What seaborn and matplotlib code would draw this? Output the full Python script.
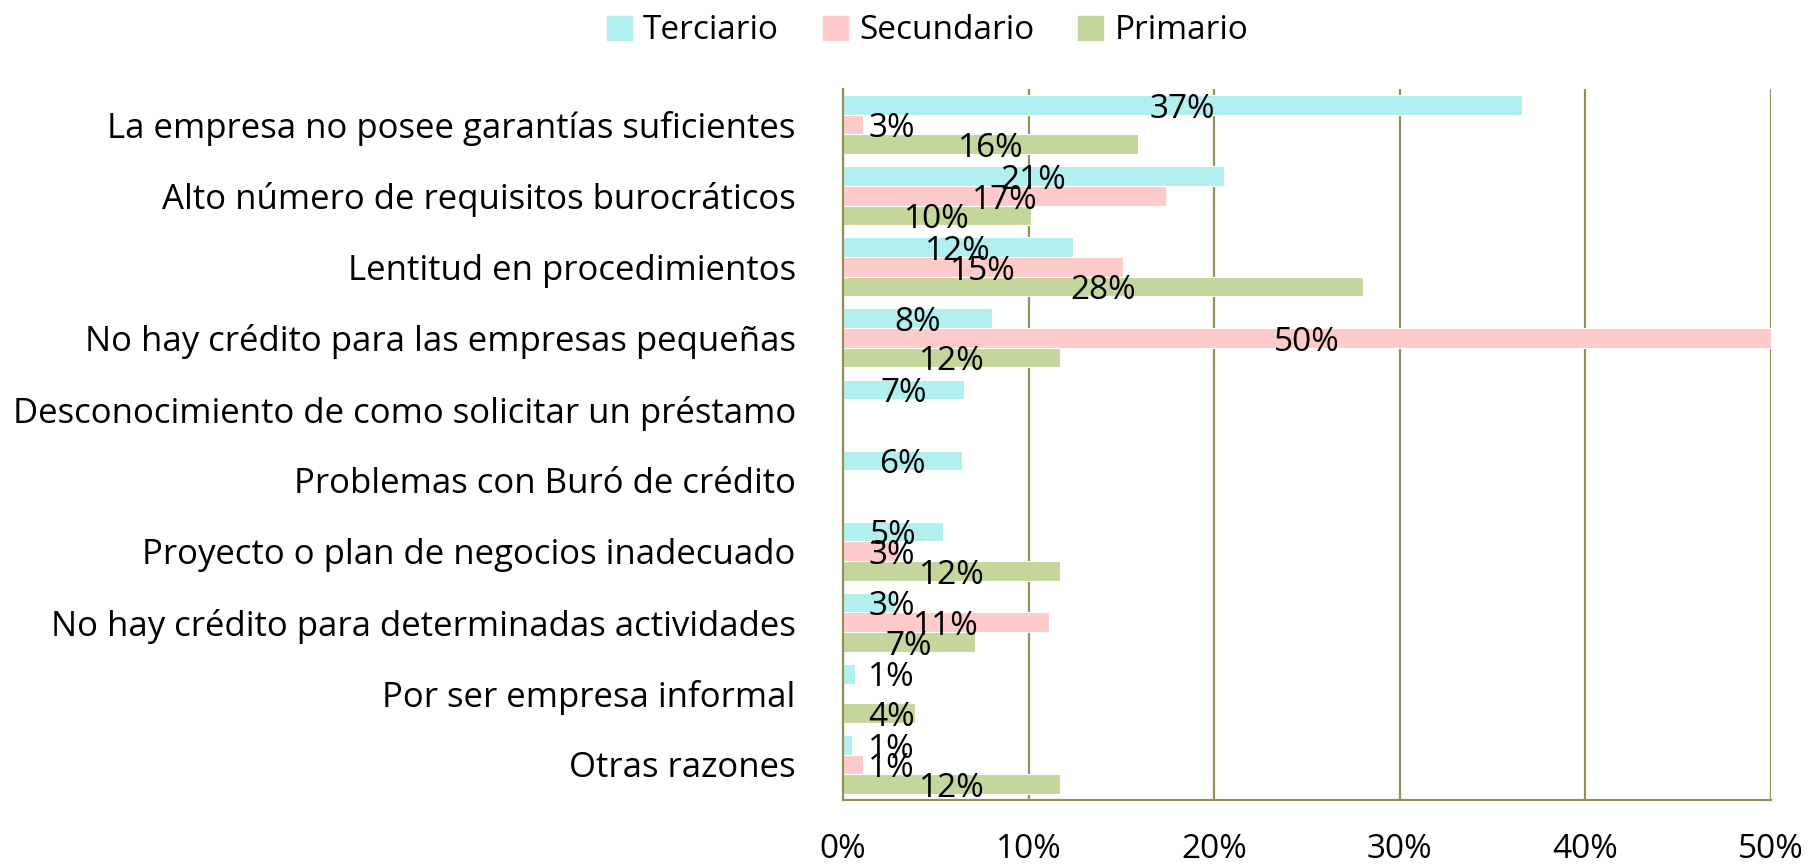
import matplotlib
matplotlib.use("Agg")
import matplotlib.pyplot as plt
import seaborn as sns
import pandas as pd

categories = [
    "La empresa no posee garantías suficientes",
    "Alto número de requisitos burocráticos",
    "Lentitud en procedimientos",
    "No hay crédito para las empresas pequeñas",
    "Desconocimiento de como solicitar un préstamo",
    "Problemas con Buró de crédito",
    "Proyecto o plan de negocios inadecuado",
    "No hay crédito para determinadas actividades",
    "Por ser empresa informal",
    "Otras razones",
]
series = ["Terciario", "Secundario", "Primario"]
terciario = [36.6, 20.5, 12.4, 8.0, 6.5, 6.4, 5.4, 2.8, 0.65, 0.5]
secundario = [1.1, 17.4, 15.1, 50.0, 0, 0, 3.0, 11.1, 0, 1.1]
primario = [15.9, 10.1, 28.0, 11.7, 0, 0, 11.7, 7.1, 3.9, 11.7]
terciario_lbl = ["37%", "21%", "12%", "8%", "7%", "6%", "5%", "3%", "1%", "1%"]
secundario_lbl = ["3%", "17%", "15%", "50%", "", "", "3%", "11%", "", "1%"]
primario_lbl = ["16%", "10%", "28%", "12%", "", "", "12%", "7%", "4%", "12%"]
xticks = [0, 10, 20, 30, 40, 50]
xtick_labels = ["0%", "10%", "20%", "30%", "40%", "50%"]

colors = ["#b2efef", "#ffcaca", "#c4d69b"]
grid_c = "#978e5e"

df = pd.DataFrame({
    "cat": categories * 3,
    "serie": [s for s in series for _ in categories],
    "val": terciario + secundario + primario,
})
labels = [terciario_lbl, secundario_lbl, primario_lbl]

sns.set_theme(style="white")
plt.rcParams["font.family"] = ["Open Sans", "DejaVu Sans"]
plt.rcParams["text.color"] = "black"
plt.rcParams["xtick.color"] = "black"
plt.rcParams["ytick.color"] = "black"

fig = plt.figure(figsize=(18.15, 8.65), dpi=100)
ax = fig.add_axes([0.4645, 0.0751, 0.9758 - 0.4645, 0.897 - 0.0751])

sns.barplot(data=df, y="cat", x="val", hue="serie", order=categories,
            hue_order=series, palette=colors, saturation=1, width=0.83, orient="h",
            edgecolor="white", linewidth=0.8, ax=ax, legend=True)

ax.set_xlim(0, 50)
ax.set_ylim(9.5, -0.5)
ax.set_xticks(xticks)
ax.set_xticklabels(xtick_labels, fontsize=24, color="black")
ax.tick_params(axis="x", length=0, pad=24, labelcolor="black")
ax.tick_params(axis="y", length=0, pad=34, labelsize=25, labelcolor="black")
ax.set_xlabel("")
ax.set_ylabel("")
for s in ["top", "right"]:
    ax.spines[s].set_visible(False)
for s in ["left", "bottom"]:
    ax.spines[s].set_color(grid_c)
    ax.spines[s].set_linewidth(1.6)
ax.grid(axis="x", color=grid_c, linewidth=1.6)
ax.grid(axis="y", visible=False)
ax.set_axisbelow(True)

for cont, lbls in zip(ax.containers, labels):
    for p, t in zip(cont.patches, lbls):
        if not t:
            continue
        w = p.get_width()
        x = max(w / 2, 2.6)
        y = p.get_y() + p.get_height() / 2
        ax.text(x, y + 0.06, t, ha="center", va="center", fontsize=24, color="black")

ax.get_legend().remove()
handles = [plt.Rectangle((0, 0), 1, 1, color=c) for c in colors]
leg = fig.legend(handles, series, loc="upper center", bbox_to_anchor=(0.511, 1.018),
                 ncol=3, frameon=False, fontsize=24, handlelength=0.75, handleheight=0.75,
                 handletextpad=0.35, columnspacing=1.3)
for txt in leg.get_texts():
    txt.set_color("black")

fig.savefig("out.png", dpi=100)
